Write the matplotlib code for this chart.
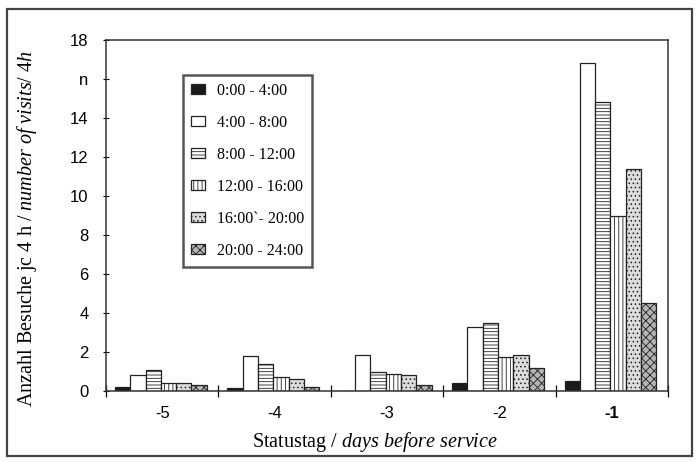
import numpy as np
import matplotlib
matplotlib.use("Agg")
import matplotlib.pyplot as plt
from matplotlib.patches import Rectangle

plt.rcParams['mathtext.fontset'] = 'custom'
plt.rcParams['mathtext.rm'] = 'Liberation Serif'
plt.rcParams['mathtext.it'] = 'Liberation Serif:italic'
plt.rcParams['hatch.linewidth'] = 0.6

# data
days = ['-5', '-4', '-3', '-2', '-1']
slots = ['0:00 - 4:00', '4:00 - 8:00', '8:00 - 12:00', '12:00 - 16:00',
         '16:00`- 20:00', '20:00 - 24:00']
v_0_4 = [0.2, 0.15, 0.0, 0.4, 0.5]
v_4_8 = [0.8, 1.8, 1.85, 3.3, 16.8]
v_8_12 = [1.1, 1.4, 1.0, 3.5, 14.8]
v_12_16 = [0.4, 0.7, 0.85, 1.75, 9.0]
v_16_20 = [0.4, 0.6, 0.8, 1.85, 11.4]
v_20_24 = [0.3, 0.2, 0.3, 1.2, 4.5]
yticks = [0, 2, 4, 6, 8, 10, 12, 14, 16, 18]
ytick_labels = ['0', '2', '4', '6', '8', '10', '12', '14', 'n', '18']

series = [v_0_4, v_4_8, v_8_12, v_12_16, v_16_20, v_20_24]
faces = ['#1a1a1a', 'white', 'white', 'white', '#dcdcdc', '#b4b4b4']
hatches = [None, None, '-----', '||||', '....', 'xxxx']

fig = plt.figure(figsize=(6.99, 4.62), dpi=100)
# outer frame of the scanned figure
fig.patches.append(Rectangle((7 / 699, 1 - 456 / 462), 685 / 699, 447 / 462,
                             transform=fig.transFigure, fill=False,
                             edgecolor='#444444', lw=1.6))

ax = fig.add_axes([106 / 699, 1 - 391 / 462, 562 / 699, 351 / 462])

x = np.arange(len(days))
w = 0.136
for i, vals in enumerate(series):
    ax.bar(x - 0.352 + i * w, vals, width=w, color=faces[i], hatch=hatches[i],
           edgecolor='#222222', linewidth=0.9, label=slots[i])

ax.set_xlim(-0.5, 4.5)
ax.set_ylim(0, 18)
ax.set_yticks(yticks)
ax.set_yticklabels(ytick_labels, family='Liberation Sans', fontsize=12)
ax.set_xticks(x)
ax.set_xticklabels(days, family='Liberation Sans', fontsize=12)
ax.get_xticklabels()[-1].set_fontweight('bold')
ax.tick_params(axis='x', length=0, pad=11)
ax.set_xticks(np.arange(-0.5, 5, 1), minor=True)
ax.tick_params(axis='x', which='minor', direction='inout', length=9, width=0.9)
ax.tick_params(axis='y', direction='inout', length=5, width=0.8, pad=10)

for s in ax.spines.values():
    s.set_color('#333333')
    s.set_linewidth(1.1)

ax.set_ylabel(r'Anzahl Besuche jc 4 h / $\mathit{number\ of\ visits/\ 4h}$',
              family='Liberation Serif', fontsize=14.5)
ax.yaxis.set_label_coords(-0.12, 0.462)
ax.set_xlabel(r'Statustag / $\mathit{days\ before\ service}$',
              family='Liberation Serif', fontsize=14.5)
ax.xaxis.set_label_coords(0.479, -0.112)

leg = ax.legend(loc='upper left', bbox_to_anchor=(183 / 699, 1 - 75 / 462),
                bbox_transform=fig.transFigure, borderaxespad=0,
                prop={'family': 'Liberation Serif', 'size': 11.5},
                labelspacing=1.0, handlelength=0.9, handleheight=0.6,
                handletextpad=0.7, borderpad=0.5, fancybox=False,
                framealpha=1)
leg.get_frame().set_edgecolor('#555555')
leg.get_frame().set_linewidth(1.8)

fig.savefig('out.png', dpi=100)
